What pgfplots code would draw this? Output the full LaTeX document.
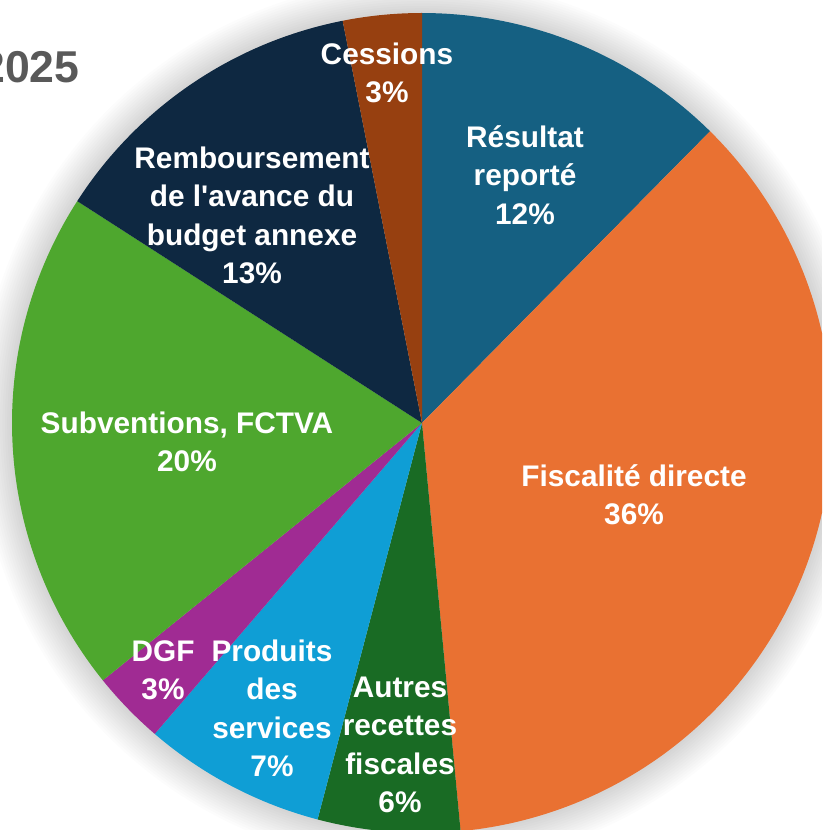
\documentclass[border=0pt]{standalone}
\usepackage{pgfplots}
\pgfplotsset{compat=1.18}
\usepackage{pgfplotstable}
\usepackage{fontspec}
\setmainfont{Liberation Sans}

\definecolor{cRes}{HTML}{156082}
\definecolor{cFis}{HTML}{E97132}
\definecolor{cAut}{HTML}{196B24}
\definecolor{cPro}{HTML}{0F9ED5}
\definecolor{cDGF}{HTML}{A02B93}
\definecolor{cSub}{HTML}{4EA72E}
\definecolor{cRem}{HTML}{0E2841}
\definecolor{cCes}{HTML}{974010}
\definecolor{cTitle}{HTML}{595959}

% shares (percent), clockwise from 12 o'clock
\pgfplotstableread{
slice value
Resultat 12.4
Fiscalite 36.1
Autres 5.6
Produits 7.2
DGF 2.9
Subventions 19.9
Remboursement 12.8
Cessions 3.1
}\piedata

\pgfplotstablegetelem{0}{value}\of\piedata\let\vA\pgfplotsretval
\pgfplotstablegetelem{1}{value}\of\piedata\let\vB\pgfplotsretval
\pgfplotstablegetelem{2}{value}\of\piedata\let\vC\pgfplotsretval
\pgfplotstablegetelem{3}{value}\of\piedata\let\vD\pgfplotsretval
\pgfplotstablegetelem{4}{value}\of\piedata\let\vE\pgfplotsretval
\pgfplotstablegetelem{5}{value}\of\piedata\let\vF\pgfplotsretval
\pgfplotstablegetelem{6}{value}\of\piedata\let\vG\pgfplotsretval
\pgfplotstablegetelem{7}{value}\of\piedata\let\vH\pgfplotsretval

\pgfmathsetmacro\aA{90}
\pgfmathsetmacro\aB{\aA-3.6*\vA}
\pgfmathsetmacro\aC{\aB-3.6*\vB}
\pgfmathsetmacro\aD{\aC-3.6*\vC}
\pgfmathsetmacro\aE{\aD-3.6*\vD}
\pgfmathsetmacro\aF{\aE-3.6*\vE}
\pgfmathsetmacro\aG{\aF-3.6*\vF}
\pgfmathsetmacro\aH{\aG-3.6*\vG}
\pgfmathsetmacro\aI{-270}

\newcommand\lbl{\fontsize{14.9}{19.2}\selectfont\bfseries\color{white}}

\begin{document}
\begin{tikzpicture}
\begin{axis}[
  width=411pt, height=415pt, scale only axis,
  xmin=-1.02927, xmax=0.97561,
  ymin=-0.99268, ymax=1.03171,
  hide axis, clip=true,
]
\coordinate (bl) at (rel axis cs:0,0);
\coordinate (tr) at (rel axis cs:1,1);
% soft glow around the pie
\pgfplotsinvokeforeach{1,...,14}{
  \fill[black, fill opacity=0.011] (axis cs:0,0) circle[radius={205pt+#1*1.2pt}];
}

\addplot[draw=none, fill=cRes, domain=\aB:\aA, samples=60, variable=\t] ({cos(\t)},{sin(\t)}) -- (axis cs:0,0) -- cycle;
\addplot[draw=none, fill=cFis, domain=\aC:\aB, samples=120, variable=\t] ({cos(\t)},{sin(\t)}) -- (axis cs:0,0) -- cycle;
\addplot[draw=none, fill=cAut, domain=\aD:\aC, samples=30, variable=\t] ({cos(\t)},{sin(\t)}) -- (axis cs:0,0) -- cycle;
\addplot[draw=none, fill=cPro, domain=\aE:\aD, samples=30, variable=\t] ({cos(\t)},{sin(\t)}) -- (axis cs:0,0) -- cycle;
\addplot[draw=none, fill=cDGF, domain=\aF:\aE, samples=20, variable=\t] ({cos(\t)},{sin(\t)}) -- (axis cs:0,0) -- cycle;
\addplot[draw=none, fill=cSub, domain=\aG:\aF, samples=80, variable=\t] ({cos(\t)},{sin(\t)}) -- (axis cs:0,0) -- cycle;
\addplot[draw=none, fill=cRem, domain=\aH:\aG, samples=60, variable=\t] ({cos(\t)},{sin(\t)}) -- (axis cs:0,0) -- cycle;
\addplot[draw=none, fill=cCes, domain=\aI:\aH, samples=20, variable=\t] ({cos(\t)},{sin(\t)}) -- (axis cs:0,0) -- cycle;

\node[align=center, font=\lbl] at (axis cs:-0.0854,0.8537) {Cessions\\3\%};
\node[align=center, font=\lbl] at (axis cs:0.2512,0.6049) {Résultat\\reporté\\12\%};
\node[align=center, font=\lbl] at (axis cs:0.5171,-0.1756) {Fiscalité directe\\36\%};
\node[align=center, font=\lbl] at (axis cs:-0.0537,-0.7854) {Autres\\recettes\\fiscales\\6\%};
\node[align=center, font=\lbl] at (axis cs:-0.3659,-0.6963) {Produits\\des\\services\\7\%};
\node[align=center, font=\lbl] at (axis cs:-0.6317,-0.6024) {DGF\\3\%};
\node[align=center, font=\lbl] at (axis cs:-0.5732,-0.0463) {Subventions, FCTVA\\20\%};
\node[align=center, font=\lbl] at (axis cs:-0.4146,0.5061) {Remboursement\\de l\textquotesingle avance du\\budget annexe\\13\%};
\node[anchor=base east, inner sep=0pt, font=\fontsize{22.3}{26}\selectfont\bfseries, text=cTitle] at (axis cs:-0.8341,0.8293) {2025};
\end{axis}
\pgfresetboundingbox
\path[use as bounding box] (bl) rectangle (tr);
\end{tikzpicture}
\end{document}
